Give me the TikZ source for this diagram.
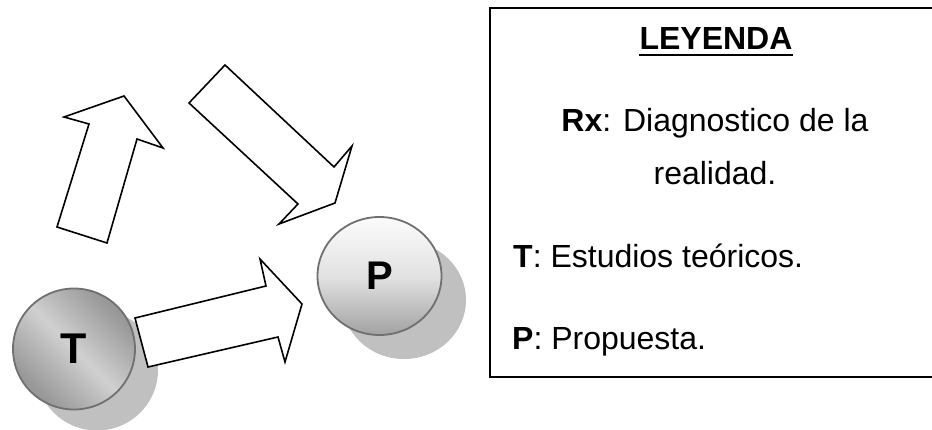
\documentclass[tikz,border=0pt]{standalone}
\usepackage{fontspec}
\setmainfont{Liberation Sans}
\usetikzlibrary{shapes.geometric}
\definecolor{tdark}{HTML}{989898}
\definecolor{tlight}{HTML}{D0D0D0}
\definecolor{ptop}{HTML}{FBFBFB}
\definecolor{pmid}{HTML}{E2E2E2}
\definecolor{pbot}{HTML}{A2A2A2}
\definecolor{shadowgray}{HTML}{C0C0C0}
\definecolor{rimgray}{HTML}{707070}
\pgfdeclarehorizontalshading{tshade}{100bp}{color(0bp)=(tdark); color(27bp)=(tdark); color(50bp)=(tlight); color(73bp)=(tdark); color(100bp)=(tdark)}
\pgfdeclareverticalshading{pshade}{100bp}{color(0bp)=(pbot); color(25bp)=(pbot); color(50bp)=(pmid); color(75bp)=(ptop); color(100bp)=(ptop)}
\tikzset{
  blockarrow/.style={draw=black, fill=white, line width=1.6pt, line join=miter},
  ballshadow/.style={ellipse, fill=shadowgray, draw=none, inner sep=0pt},
  ball/.style={ellipse, draw=rimgray, line width=1.8pt, inner sep=0pt},
  legtext/.style={inner sep=0pt, font=\fontsize{32}{36}\selectfont},
}
\begin{document}
\begin{tikzpicture}[x=1pt,y=-1pt]
\useasboundingbox (0,0) rectangle (932,430);
% legend box
\coordinate (bxTR) at (932,8);
\coordinate (bxTL) at (490,8);
\coordinate (bxBL) at (490,377);
\coordinate (bxBR) at (932,377);
\draw[line width=1.3pt] (bxTR) -- (bxTL) -- (bxBL) -- (bxBR);
\node[legtext, anchor=base, font=\fontsize{32}{36}\selectfont\bfseries] (ley) at (716,50) {LEYENDA};
\draw[line width=2pt] ([yshift=-5.5pt]ley.base west) -- ([yshift=-5.5pt]ley.base east);
\node[legtext, anchor=base] (rx) at (715,132) {\textbf{Rx}: Diagnostico de la};
\node[legtext, anchor=base] (real) at (715,185) {realidad.};
\node[legtext, anchor=base west] (tleg) at (513,268) {\textbf{T}: Estudios teóricos.};
\node[legtext, anchor=base west] (pleg) at (512,350) {\textbf{P}: Propuesta.};
% shadows
\node[ballshadow, minimum width=122pt, minimum height=121pt] (tsh) at (97,370) {};
\node[ballshadow, minimum width=124pt, minimum height=118pt] (psh) at (404,300) {};
% block arrows
\draw[blockarrow] (57,227) -- (89,124) -- (64,117) -- (124,96) -- (163,148) -- (137,139) -- (107,243) -- cycle;
\draw[blockarrow] (225,65) -- (334,167) -- (352,146) -- (335,203) -- (279,224) -- (298,204) -- (189,103) -- cycle;
\draw[blockarrow] (135,318) -- (266,286) -- (260,259) -- (302,304) -- (285,362) -- (278,337) -- (148,367) -- cycle;
% balls
\node[ball, minimum width=122pt, minimum height=121pt, shading=tshade, shading angle=45,
      font=\fontsize{43}{46}\selectfont\bfseries] (t) at (74,349) {T};
\node[ball, minimum width=124pt, minimum height=118pt, shading=pshade,
      font=\fontsize{40}{44}\selectfont\bfseries] (p) at (379.5,276) {P};
\end{tikzpicture}
\end{document}
